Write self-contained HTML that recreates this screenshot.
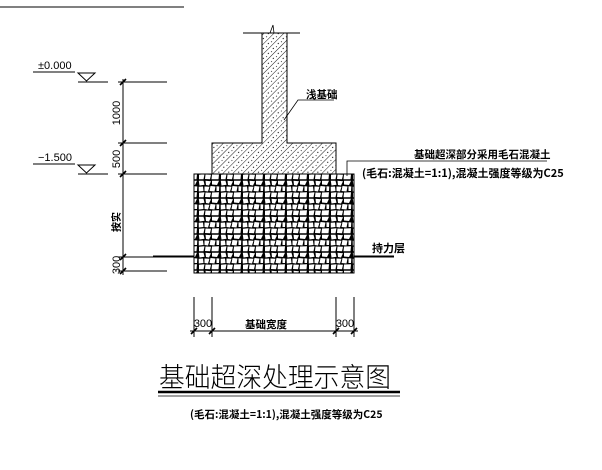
<!DOCTYPE html>
<html><head><meta charset="utf-8"><style>
html,body{margin:0;padding:0;background:#fff;}
svg{display:block;}
text{font-family:"Liberation Sans","Noto Sans CJK SC",sans-serif;fill:#000;}
.cn{font-family:"Noto Sans CJK SC","WenQuanYi Zen Hei",sans-serif;font-weight:bold;}
</style></head><body>
<svg width="602" height="470" viewBox="0 0 602 470" xmlns="http://www.w3.org/2000/svg">
<defs>
<pattern id="rub" width="22" height="18" patternUnits="userSpaceOnUse">
<rect width="22" height="18" fill="#000"/>
<g fill="#fff">
<polygon points="0.8,0.8 5.5,0.7 6.5,4.8 1.5,5.5"/>
<polygon points="7.5,0.8 13,1.2 11,5.5 8,5"/>
<polygon points="14,0.8 21,0.7 19,5 14,4.5"/>
<polygon points="0.7,6.8 5,6.5 5.5,11 0.8,11.5"/>
<polygon points="6.5,6.5 11.5,6.8 10,11.5 6.5,11"/>
<polygon points="12.5,6 17.5,6.5 16.5,11.5 11.5,11"/>
<polygon points="18.5,6.2 21.3,6.5 21,11 18.5,11"/>
<polygon points="1,12.8 6.5,12.2 5.5,17.3 1,17.2"/>
<polygon points="7.5,12.5 13,12.8 12,17.3 7,17"/>
<polygon points="14,12.5 21,12.2 20.5,17.3 13.5,17.3"/>
</g>
</pattern>
<pattern id="hat" width="7" height="7" patternUnits="userSpaceOnUse" patternTransform="rotate(45)">
<line x1="0" y1="0" x2="0" y2="7" stroke="#000" stroke-width="0.9"/>
<circle cx="3.5" cy="2" r="0.6" fill="#000"/><circle cx="4.5" cy="5.5" r="0.5" fill="#000"/>
</pattern>
</defs>
<line x1="0" y1="7" x2="184" y2="7" stroke="#000" stroke-width="1"/>

<path d="M262,33 H287 V143 H336 V174 H212 V143 H262 Z" fill="url(#hat)" stroke="#000" stroke-width="1"/>
<line x1="243" y1="33" x2="300" y2="33" stroke="#000"/>
<path d="M270,33 L273,25 L274,33" fill="none" stroke="#000" stroke-width="0.8"/>
<rect x="194" y="174" width="160" height="99" fill="url(#rub)" stroke="#000" stroke-width="1"/>
<line x1="153" y1="256.5" x2="194" y2="256.5" stroke="#000" stroke-width="2"/>
<line x1="354" y1="256.5" x2="394" y2="256.5" stroke="#000" stroke-width="2"/>
<text x="372" y="252" font-size="11" class="cn">持力层</text>

<path d="M284,120 L298,100 H334" fill="none" stroke="#000" stroke-width="0.8"/>
<text x="306" y="98" font-size="10.5" class="cn">浅基础</text>
<path d="M347,176 V161 H547" fill="none" stroke="#000" stroke-width="0.8"/>
<text x="414" y="158" font-size="10.5" class="cn">基础超深部分采用毛石混凝土</text>
<text x="362" y="177" font-size="11" class="cn">(毛石:混凝土=1:1),混凝土强度等级为C25</text>

<text x="38" y="69" font-size="11">±0.000</text>
<line x1="33" y1="72" x2="75" y2="72" stroke="#000"/>
<path d="M78,73 L95,73 L86.5,81 Z" fill="none" stroke="#000"/>
<line x1="78" y1="82" x2="108" y2="82" stroke="#000"/>
<text x="38" y="161" font-size="11">−1.500</text>
<line x1="33" y1="164" x2="75" y2="164" stroke="#000"/>
<path d="M78,165 L95,165 L86.5,173 Z" fill="none" stroke="#000"/>
<line x1="78" y1="174" x2="108" y2="174" stroke="#000"/>

<line x1="123" y1="79" x2="123" y2="275" stroke="#000"/>
<g stroke="#000" stroke-width="1">
<line x1="118" y1="82" x2="167" y2="82"/>
<line x1="118" y1="143" x2="167" y2="143"/>
<line x1="118" y1="174" x2="167" y2="174"/>
<line x1="118" y1="257" x2="153" y2="257"/>
<line x1="118" y1="271" x2="167" y2="271"/>
<g stroke-width="1.6">
<line x1="120" y1="85" x2="126" y2="79"/><line x1="120" y1="146" x2="126" y2="140"/>
<line x1="120" y1="177" x2="126" y2="171"/><line x1="120" y1="260" x2="126" y2="254"/>
<line x1="120" y1="274" x2="126" y2="268"/>
</g></g>
<g font-size="11">
<text transform="translate(120,113) rotate(-90)" text-anchor="middle">1000</text>
<text transform="translate(120,159) rotate(-90)" text-anchor="middle">500</text>
<text transform="translate(120,265) rotate(-90)" text-anchor="middle">300</text>
<text transform="translate(120,222) rotate(-90)" text-anchor="middle" class="cn" font-size="10">按实</text>
</g>

<g stroke="#000">
<line x1="194" y1="297" x2="194" y2="337"/><line x1="212" y1="297" x2="212" y2="337"/>
<line x1="336" y1="297" x2="336" y2="337"/><line x1="354" y1="297" x2="354" y2="337"/>
<line x1="190" y1="331" x2="358" y2="331"/>
<g stroke-width="1.6">
<line x1="191" y1="334" x2="197" y2="328"/><line x1="209" y1="334" x2="215" y2="328"/>
<line x1="333" y1="334" x2="339" y2="328"/><line x1="351" y1="334" x2="357" y2="328"/>
</g></g>
<text x="203" y="327" font-size="11" text-anchor="middle">300</text>
<text x="345" y="327" font-size="11" text-anchor="middle">300</text>
<text x="266" y="328" font-size="10.5" text-anchor="middle" class="cn">基础宽度</text>

<text x="159" y="387" font-size="27" textLength="232" lengthAdjust="spacingAndGlyphs" style="font-family:'Noto Sans CJK SC',sans-serif;font-weight:300">基础超深处理示意图</text>
<line x1="158" y1="392" x2="400" y2="392" stroke="#000" stroke-width="2.5"/>
<line x1="158" y1="396" x2="400" y2="396" stroke="#000" stroke-width="0.8"/>
<text x="190" y="418" font-size="10.5" class="cn">(毛石:混凝土=1:1),混凝土强度等级为C25</text>
</svg>
</body></html>
